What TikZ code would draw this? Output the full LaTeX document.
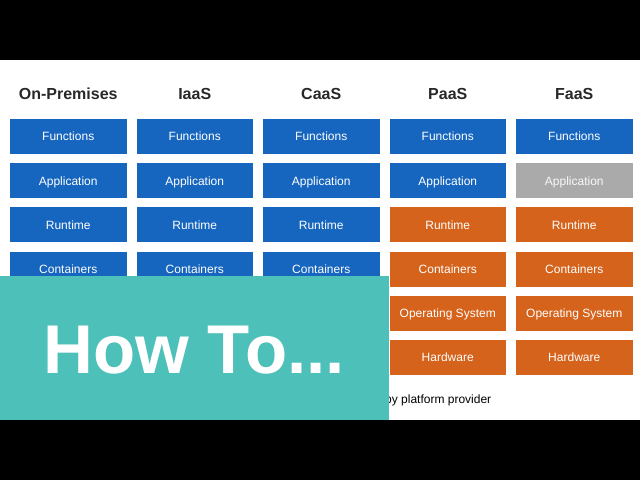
\documentclass[tikz,border=0pt]{standalone}
\usepackage{fontspec}
\setmainfont{Liberation Sans}
\definecolor{boxblue}{RGB}{22,101,190}
\definecolor{boxorange}{RGB}{213,99,28}
\definecolor{boxgray}{RGB}{170,170,170}
\definecolor{teal}{RGB}{77,192,186}
\definecolor{headgray}{RGB}{40,40,40}
\begin{document}
\begin{tikzpicture}[x=1pt,y=-1pt,
  cell/.style={minimum width=116.5pt,minimum height=35pt,inner sep=0pt,text height=8.6pt,text depth=0pt,text=white,font=\fontsize{12}{14}\selectfont},
  blue/.style={cell,fill=boxblue},
  orange/.style={cell,fill=boxorange},
  gray/.style={cell,fill=boxgray,text=white!95!gray},
  head/.style={font=\fontsize{16}{18}\selectfont\bfseries,text=headgray,inner sep=0pt,text height=11.5pt,text depth=0pt}]
\useasboundingbox (0,0) rectangle (640,480);
\fill[black] (0,0) rectangle (640,480);
\fill[white] (0,60) rectangle (640,420);
% headers
\node[head] (h1) at (68.25,93.5) {On-Premises};
\node[head] (h2) at (194.75,93.5) {IaaS};
\node[head] (h3) at (321.25,93.5) {CaaS};
\node[head] (h4) at (447.75,93.5) {PaaS};
\node[head] (h5) at (574.25,93.5) {FaaS};
% columns 1-3
\foreach \c/\x in {1/68.25,2/194.75,3/321.25}{
  \node[blue] (f\c) at (\x,136.5) {Functions};
  \node[blue] (a\c) at (\x,180.7) {Application};
  \node[blue] (r\c) at (\x,224.9) {Runtime};
  \node[blue] (k\c) at (\x,269.1) {Containers};
}
% column 4
\node[blue] (f4) at (447.75,136.5) {Functions};
\node[blue] (a4) at (447.75,180.7) {Application};
\node[orange] (r4) at (447.75,224.9) {Runtime};
\node[orange] (k4) at (447.75,269.1) {Containers};
\node[orange] (o4) at (447.75,313.3) {Operating System};
\node[orange] (w4) at (447.75,357.6) {Hardware};
% column 5
\node[blue] (f5) at (574.25,136.5) {Functions};
\node[gray] (a5) at (574.25,180.7) {Application};
\node[orange] (r5) at (574.25,224.9) {Runtime};
\node[orange] (k5) at (574.25,269.1) {Containers};
\node[orange] (o5) at (574.25,313.3) {Operating System};
\node[orange] (w5) at (574.25,357.6) {Hardware};
% legend
\node[anchor=base west,inner sep=0pt,font=\fontsize{12}{14}\selectfont] (leg) at (385,403) {by platform provider};
% overlay
\fill[teal] (0,276) rectangle (389,420);
\node[anchor=base west,inner sep=0pt,text=white,font=\fontsize{69}{72}\selectfont\bfseries] (how) at (43,373) {How To...};
\end{tikzpicture}
\end{document}
